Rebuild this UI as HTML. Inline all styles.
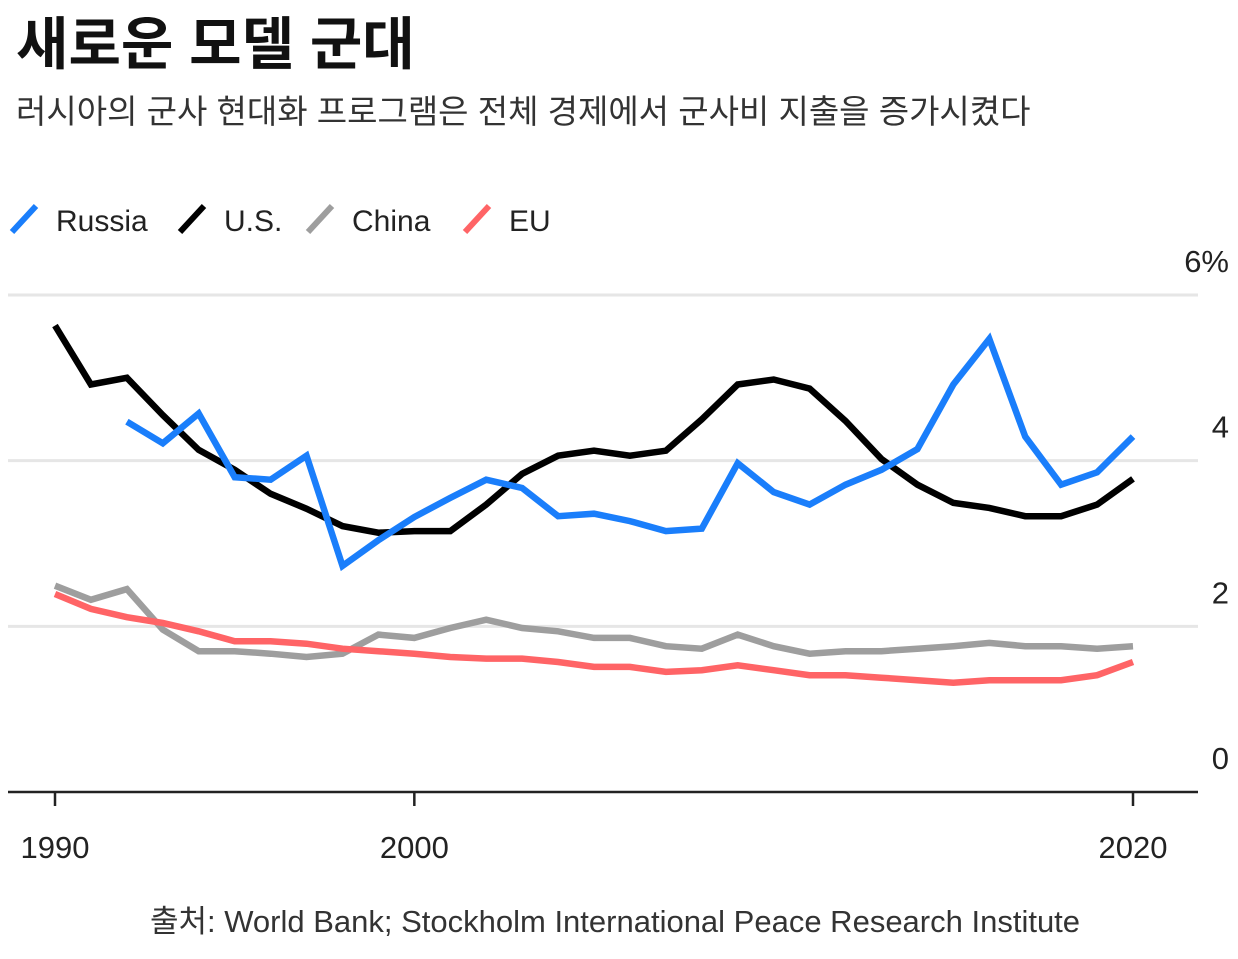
<!DOCTYPE html>
<html lang="ko"><head><meta charset="utf-8">
<style>
body{margin:0;background:#fff;width:1238px;height:954px;overflow:hidden;font-family:"Liberation Sans","Noto Sans CJK KR",sans-serif;}
svg text{font-family:"Liberation Sans","Noto Sans CJK KR",sans-serif;}
</style></head><body>
<svg id="chart" width="1238" height="954">
<text x="16" y="64" font-size="57" font-weight="bold" fill="#111">새로운 모델 군대</text>
<text x="16" y="123" font-size="33" fill="#333">러시아의 군사 현대화 프로그램은 전체 경제에서 군사비 지출을 증가시켰다</text>
<g id="legend"></g>
<g id="grid"></g>
<g id="series"></g>
<g id="axes"></g>
<text x="615" y="932" font-size="31" fill="#333" text-anchor="middle">출처: World Bank; Stockholm International Peace Research Institute</text>
</svg>
<script>
const years=[];for(let y=1990;y<=2020;y++)years.push(y);
const usValues=[5.63,4.92,5.0,4.55,4.13,3.89,3.6,3.42,3.21,3.13,3.15,3.15,3.47,3.84,4.06,4.12,4.06,4.12,4.5,4.92,4.98,4.87,4.48,4.02,3.71,3.49,3.43,3.33,3.33,3.47,3.78];
const russiaValues=[null,null,4.47,4.21,4.57,3.8,3.77,4.06,2.73,3.04,3.32,3.55,3.77,3.67,3.33,3.36,3.27,3.15,3.18,3.97,3.62,3.47,3.71,3.89,4.14,4.92,5.47,4.29,3.71,3.86,4.29];
const chinaValues=[2.49,2.32,2.45,1.96,1.7,1.7,1.67,1.63,1.67,1.9,1.86,1.98,2.08,1.98,1.94,1.86,1.86,1.76,1.73,1.9,1.76,1.67,1.7,1.7,1.73,1.76,1.8,1.76,1.76,1.73,1.76];
const euValues=[2.39,2.21,2.11,2.04,1.94,1.82,1.82,1.79,1.73,1.7,1.67,1.63,1.61,1.61,1.57,1.51,1.51,1.45,1.47,1.53,1.47,1.41,1.41,1.38,1.35,1.32,1.35,1.35,1.35,1.41,1.57];
const yTicks=[0,2,4,6];
const yTickLabels=["0","2","4","6%"];
const xTicks=[1990,2000,2020];
const seriesNames=["Russia","U.S.","China","EU"];
const seriesColors=["#1a7efb","#000000","#9e9e9e","#ff6466"];

const NS="http://www.w3.org/2000/svg";
const x=yr=>55+(yr-1990)*(1133-55)/30;
const y=v=>792-v*(792-295)/6;
function mk(tag,attrs,parent){const e=document.createElementNS(NS,tag);for(const k in attrs)e.setAttribute(k,attrs[k]);parent.appendChild(e);return e;}
const grid=document.getElementById('grid'),axes=document.getElementById('axes'),series=document.getElementById('series'),legend=document.getElementById('legend');
yTicks.forEach((t,i)=>{
  if(t>0){const l=mk('line',{x1:8,x2:1198,y1:y(t),y2:y(t),stroke:'#e6e6e6','stroke-width':3},grid);
  
  }
  const tx=mk('text',{x:1229,y:y(t)-23,'font-size':31,fill:'#222','text-anchor':'end'},axes);
  tx.textContent=yTickLabels[i];
  
  
});
const ax=mk('line',{x1:8,x2:1198,y1:792,y2:792,stroke:'#222','stroke-width':2.5},axes);


xTicks.forEach(t=>{
  const tk=mk('line',{x1:x(t),x2:x(t),y1:792,y2:806,stroke:'#222','stroke-width':2.5},axes);
  
  
  const tx=mk('text',{x:x(t),y:858,'font-size':31,fill:'#222','text-anchor':'middle'},axes);
  tx.textContent=t;
  
  
});
const allSeries=[russiaValues,usValues,chinaValues,euValues];
const order=[2,3,1,0];
order.forEach(si=>{
  const vals=allSeries[si];let d='';let started=false;
  vals.forEach((v,i)=>{if(v==null)return;d+=(started?'L':'M')+x(years[i]).toFixed(1)+','+y(v).toFixed(1);started=true;});
  const p=mk('path',{d:d,fill:'none',stroke:seriesColors[si],'stroke-width':6.5,'stroke-linejoin':'miter','stroke-linecap':'butt'},series);
  
  
});
const legX=[12,180,308,465];
seriesNames.forEach((n,i)=>{
  const g=mk('g',{},legend);
  
  
  mk('line',{x1:legX[i],y1:232,x2:legX[i]+24,y2:206,stroke:seriesColors[i],'stroke-width':6},g);
  const t=mk('text',{x:legX[i]+44,y:231,'font-size':30,fill:'#222'},g);
  t.textContent=n;
});
</script>
</body></html>
